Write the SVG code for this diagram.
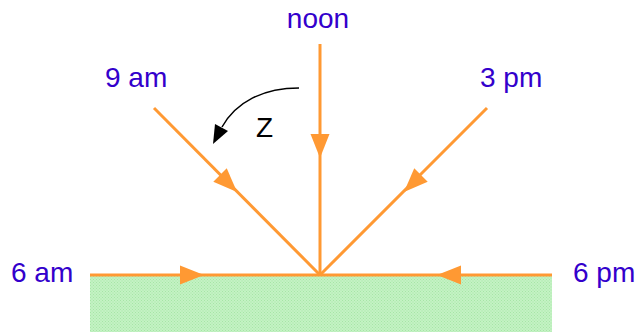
<svg xmlns="http://www.w3.org/2000/svg" xmlns:xlink="http://www.w3.org/1999/xlink" width="636" height="332" viewBox="0 0 636 332">
<style>
.lbl{font-family:"Liberation Sans",Arial,sans-serif;font-size:28px;fill:#3300CC}
.ray{stroke:#FF9933;stroke-width:3;fill:none;stroke-linecap:butt}
.ah{fill:#FF9933}
</style>
<defs>
<pattern id="dots" width="3" height="3" patternUnits="userSpaceOnUse">
<rect width="3" height="3" fill="#C4F2C4"/>
<rect x="0" y="0" width="1" height="1" fill="#A6E6A6"/>
<rect x="1.5" y="1.5" width="1" height="1" fill="#A6E6A6"/>
</pattern>
<polygon id="ah" class="ah" points="0,0 -24,-9.5 -24,9.5"/>
</defs>
<rect id="ground" x="90" y="275" width="462" height="57" fill="url(#dots)"/>
<g id="connectors">
<line class="ray" x1="320" y1="44" x2="320" y2="275"/>
<line class="ray" x1="154" y1="108" x2="320" y2="275"/>
<line class="ray" x1="487" y1="108" x2="320" y2="275"/>
<line class="ray" x1="90" y1="275" x2="552" y2="275"/>
<use xlink:href="#ah" transform="translate(320,158) rotate(90)"/>
<use xlink:href="#ah" transform="translate(237,192) rotate(45)"/>
<use xlink:href="#ah" transform="translate(404,192) rotate(135)"/>
<use xlink:href="#ah" transform="translate(204,275)"/>
<use xlink:href="#ah" transform="translate(437,275) rotate(180)"/>
<path d="M299,88 C263,88 236,102 222,127" stroke="#000" stroke-width="1.5" fill="none"/>
<polygon points="213,144 215,124 228,131" fill="#000"/>
</g>
<g id="noon"><text class="lbl" x="318" y="28" text-anchor="middle">noon</text></g>
<g id="nine-am"><text class="lbl" x="105" y="87">9 am</text></g>
<g id="three-pm"><text class="lbl" x="480" y="87">3 pm</text></g>
<g id="six-am"><text class="lbl" x="11" y="282">6 am</text></g>
<g id="six-pm"><text class="lbl" x="573" y="282">6 pm</text></g>
<g id="z"><text x="256" y="137" font-family="'Liberation Sans',Arial,sans-serif" font-size="28" fill="#000">Z</text></g>
</svg>
